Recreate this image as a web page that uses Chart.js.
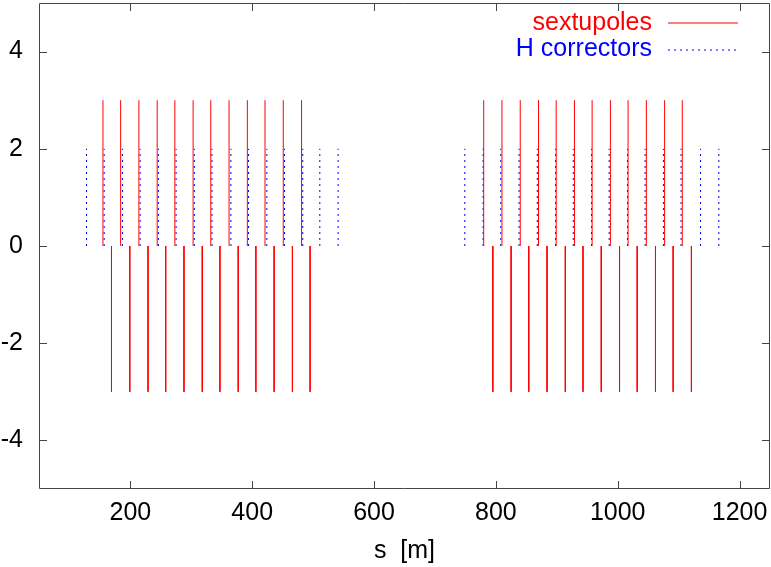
<!DOCTYPE html>
<html>
<head>
<meta charset="utf-8">
<script src="https://cdn.jsdelivr.net/npm/chart.js@4.4.1/dist/chart.umd.min.js"></script>
<style>
  html, body { margin: 0; padding: 0; background: #fff; }
  #wrap { width: 771px; height: 567px; }
</style>
</head>
<body>
<div id="wrap"><canvas id="grafico"></canvas></div>
<script>
// posizioni (s in m) e intensita' dei sestupoli (impulsi)
const sextS = [
  155, 184, 214, 244, 273, 303, 332, 362, 392, 421, 451, 481,
  169, 199, 229, 258, 288, 318, 347, 377, 406, 436, 466, 495,
  780, 810, 840, 870, 899, 929, 958, 988, 1017, 1047, 1077, 1106,
  795, 825, 854, 884, 914, 943, 973, 1003, 1032, 1062, 1091, 1121
];
const sextK = [
  3, 3, 3, 3, 3, 3, 3, 3, 3, 3, 3, 3,
  -3, -3, -3, -3, -3, -3, -3, -3, -3, -3, -3, -3,
  3, 3, 3, 3, 3, 3, 3, 3, 3, 3, 3, 3,
  -3, -3, -3, -3, -3, -3, -3, -3, -3, -3, -3, -3
];
// correttori orizzontali
const corrS = [
  128, 157, 187, 216, 246, 275, 305, 334, 365, 394, 424, 453, 483, 511, 541,
  749, 779, 808, 838, 868, 898, 927, 957, 986, 1016, 1045, 1075, 1104, 1136, 1166
];
const corrK = [
  2, 2, 2, 2, 2, 2, 2, 2, 2, 2, 2, 2, 2, 2, 2,
  2, 2, 2, 2, 2, 2, 2, 2, 2, 2, 2, 2, 2, 2, 2
];
const xTicks = [200, 400, 600, 800, 1000, 1200];
const yTicks = [-4, -2, 0, 2, 4];

const FONT = "'Liberation Sans', Arial, Helvetica, sans-serif";
const AXIS_COL = '#444';

// impulsi tipo gnuplot: 0 -> valore -> interruzione
function impulsi(pos, val) {
  const out = [];
  pos.forEach((s, i) => {
    out.push({ x: s, y: 0 });
    out.push({ x: s, y: val[i] });
    out.push({ x: s, y: null });
  });
  return out;
}

// niente padding extra delle etichette: area del grafico fissa
function senzaPadding(s) {
  s.paddingTop = 0; s.paddingBottom = 0;
  s.paddingLeft = 0; s.paddingRight = 0;
}

// cornice e tacche verso l'interno su tutti e quattro i lati
const cornice = {
  id: 'cornice',
  afterDatasetsDraw(chart) {
    const ctx = chart.ctx;
    const a = chart.chartArea;
    const xs = chart.scales.x, ys = chart.scales.y;
    const L = 8;
    ctx.save();
    ctx.strokeStyle = AXIS_COL;
    ctx.lineWidth = 1;
    ctx.beginPath();
    ctx.rect(a.left + 0.5, a.top + 0.5, a.right - a.left - 1, a.bottom - a.top - 1);
    xTicks.forEach(v => {
      const px = Math.round(xs.getPixelForValue(v)) + 0.5;
      ctx.moveTo(px, a.bottom); ctx.lineTo(px, a.bottom - L);
      ctx.moveTo(px, a.top); ctx.lineTo(px, a.top + L);
    });
    yTicks.forEach(v => {
      const py = Math.round(ys.getPixelForValue(v)) + 0.5;
      ctx.moveTo(a.left, py); ctx.lineTo(a.left + L, py);
      ctx.moveTo(a.right, py); ctx.lineTo(a.right - L, py);
    });
    ctx.stroke();
    ctx.restore();
  }
};

// legenda in alto a destra, testo colorato allineato a destra
const legenda = {
  id: 'legenda',
  afterDraw(chart) {
    const ctx = chart.ctx;
    const a = chart.chartArea;
    ctx.save();
    ctx.font = '25px ' + FONT;
    ctx.textAlign = 'right';
    ctx.textBaseline = 'middle';
    chart.data.datasets.forEach((ds, i) => {
      const y = a.top + 20 + i * 26.5;
      ctx.fillStyle = ds.borderColor;
      ctx.fillText(ds.label, a.right - 118, y);
      ctx.strokeStyle = ds.borderColor;
      ctx.lineWidth = 1;
      ctx.setLineDash(ds.borderDash || []);
      ctx.beginPath();
      ctx.moveTo(a.right - 102, Math.round(y));
      ctx.lineTo(a.right - 32, Math.round(y));
      ctx.stroke();
    });
    ctx.restore();
  }
};

new Chart(document.getElementById('grafico').getContext('2d'), {
  type: 'line',
  data: {
    datasets: [
      {
        label: 'sextupoles',
        data: impulsi(sextS, sextK),
        borderColor: '#ff0000',
        borderWidth: 1,
        pointRadius: 0,
        spanGaps: false
      },
      {
        label: 'H correctors',
        data: impulsi(corrS, corrK),
        borderColor: '#0000ff',
        borderWidth: 1,
        borderDash: [2, 4],
        pointRadius: 0,
        spanGaps: false
      }
    ]
  },
  options: {
    responsive: true,
    maintainAspectRatio: false,
    animation: false,
    events: [],
    layout: { padding: { top: 3, right: 1, left: 0, bottom: 0 } },
    plugins: { legend: { display: false }, tooltip: { enabled: false } },
    scales: {
      x: {
        type: 'linear',
        min: 50,
        max: 1250,
        grid: { display: false, drawTicks: false },
        border: { display: false },
        afterBuildTicks: s => { s.ticks = xTicks.map(v => ({ value: v })); },
        afterFit: s => { s.height = 78; senzaPadding(s); },
        ticks: {
          color: '#000',
          font: { family: FONT, size: 25 },
          padding: 9,
          maxRotation: 0,
          callback: v => String(v)
        },
        title: {
          display: true,
          text: 's  [m]',
          color: '#000',
          font: { family: FONT, size: 25 },
          padding: { top: 0, bottom: 1 }
        }
      },
      y: {
        min: -5,
        max: 5,
        grid: { display: false, drawTicks: false },
        border: { display: false },
        afterBuildTicks: s => { s.ticks = yTicks.map(v => ({ value: v })); },
        afterFit: s => { s.width = 39; senzaPadding(s); },
        ticks: {
          color: '#000',
          font: { family: FONT, size: 25 },
          padding: 16,
          callback: v => String(v)
        }
      }
    }
  },
  plugins: [cornice, legenda]
});
</script>
</body>
</html>
